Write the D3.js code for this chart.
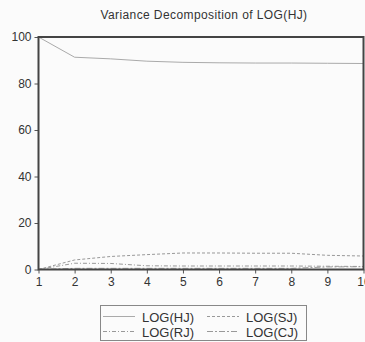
<!DOCTYPE html>
<meta charset="utf-8">
<style>
body { margin: 0; background: #fbfbfb; }
svg { font-family: "Liberation Sans", Arial, sans-serif; }
</style>
<svg width="365" height="342"></svg>
<script src="https://d3js.org/d3.v7.min.js"></script>
<script>

// periods 1..10
var periods = [1, 2, 3, 4, 5, 6, 7, 8, 9, 10];

// variance shares (%)
var hjValues = [100, 91.3, 90.6, 89.6, 89.1, 88.9, 88.8, 88.8, 88.7, 88.6];
var rjValues = [0, 2.7, 2.6, 1.6, 1.5, 1.5, 1.5, 1.5, 1.4, 1.3];
var sjValues = [0, 4.1, 5.6, 6.4, 7.1, 7.1, 7.0, 7.0, 6.1, 5.8];
var cjValues = [0, 0.5, 0.5, 0.5, 0.5, 0.5, 0.5, 0.5, 1.1, 1.2];

var yTicks = [0, 20, 40, 60, 80, 100];

var series = [
  { name: "LOG(HJ)", values: hjValues, dash: null },
  { name: "LOG(RJ)", values: rjValues, dash: "4,2,1,2" },
  { name: "LOG(SJ)", values: sjValues, dash: "3,2" },
  { name: "LOG(CJ)", values: cjValues, dash: "6,2,2,2" }
];

var svg = d3.select("svg");

var plotLeft = 38.5, plotRight = 363.5, plotTop = 37, plotBottom = 269.5;

var x = d3.scaleLinear().domain([1, 10]).range([plotLeft, plotRight]);
var y = d3.scaleLinear().domain([0, 100]).range([plotBottom, plotTop]);

// title
svg.append("text")
    .attr("x", 204)
    .attr("y", 19)
    .attr("text-anchor", "middle")
    .attr("font-size", 12)
    .attr("letter-spacing", 0.4)
    .attr("fill", "#333")
    .text("Variance Decomposition of LOG(HJ)");

// axes
var yAxis = svg.append("g")
    .attr("transform", "translate(" + plotLeft + ",0)")
    .call(d3.axisLeft(y).tickValues(yTicks).tickSize(4).tickPadding(3));

var xAxis = svg.append("g")
    .attr("transform", "translate(0," + plotBottom + ")")
    .call(d3.axisBottom(x).tickValues(periods).tickSize(4).tickPadding(4));

[yAxis, xAxis].forEach(function(a) {
  a.select(".domain").remove();
  a.selectAll("line").attr("stroke", "#555");
  a.selectAll("text")
      .attr("fill", "#333")
      .attr("font-size", 12)
      .attr("font-family", "Liberation Sans, Arial, sans-serif");
});

// lines
var line = d3.line()
    .x(function(d, i) { return x(periods[i]); })
    .y(function(d) { return y(d); });

series.forEach(function(s) {
  svg.append("path")
      .datum(s.values)
      .attr("fill", "none")
      .attr("stroke", s.dash ? "#999" : "#aaa")
      .attr("stroke-width", 1)
      .attr("stroke-dasharray", s.dash)
      .attr("d", line);
});

// frame
svg.append("rect")
    .attr("x", plotLeft)
    .attr("y", plotTop)
    .attr("width", plotRight - plotLeft)
    .attr("height", plotBottom - plotTop)
    .attr("fill", "none")
    .attr("stroke", "#444")
    .attr("stroke-width", 2);

// legend
var legend = svg.append("g");
legend.append("rect")
    .attr("x", 100.5)
    .attr("y", 305.5)
    .attr("width", 206)
    .attr("height", 35)
    .attr("fill", "none")
    .attr("stroke", "#888");

var legendPos = [
  { col: 0, row: 0 }, { col: 0, row: 1 }, { col: 1, row: 0 }, { col: 1, row: 1 }
];

series.forEach(function(s, i) {
  var p = legendPos[i];
  var lx = 103 + p.col * 104, ly = 316.5 + p.row * 15;
  legend.append("line")
      .attr("x1", lx).attr("x2", lx + 32)
      .attr("y1", ly).attr("y2", ly)
      .attr("stroke", s.dash ? "#999" : "#aaa")
      .attr("stroke-dasharray", s.dash);
  legend.append("text")
      .attr("x", lx + 39)
      .attr("y", ly + 5)
      .attr("font-size", 13)
      .attr("fill", "#333")
      .text(s.name);
});

</script>
